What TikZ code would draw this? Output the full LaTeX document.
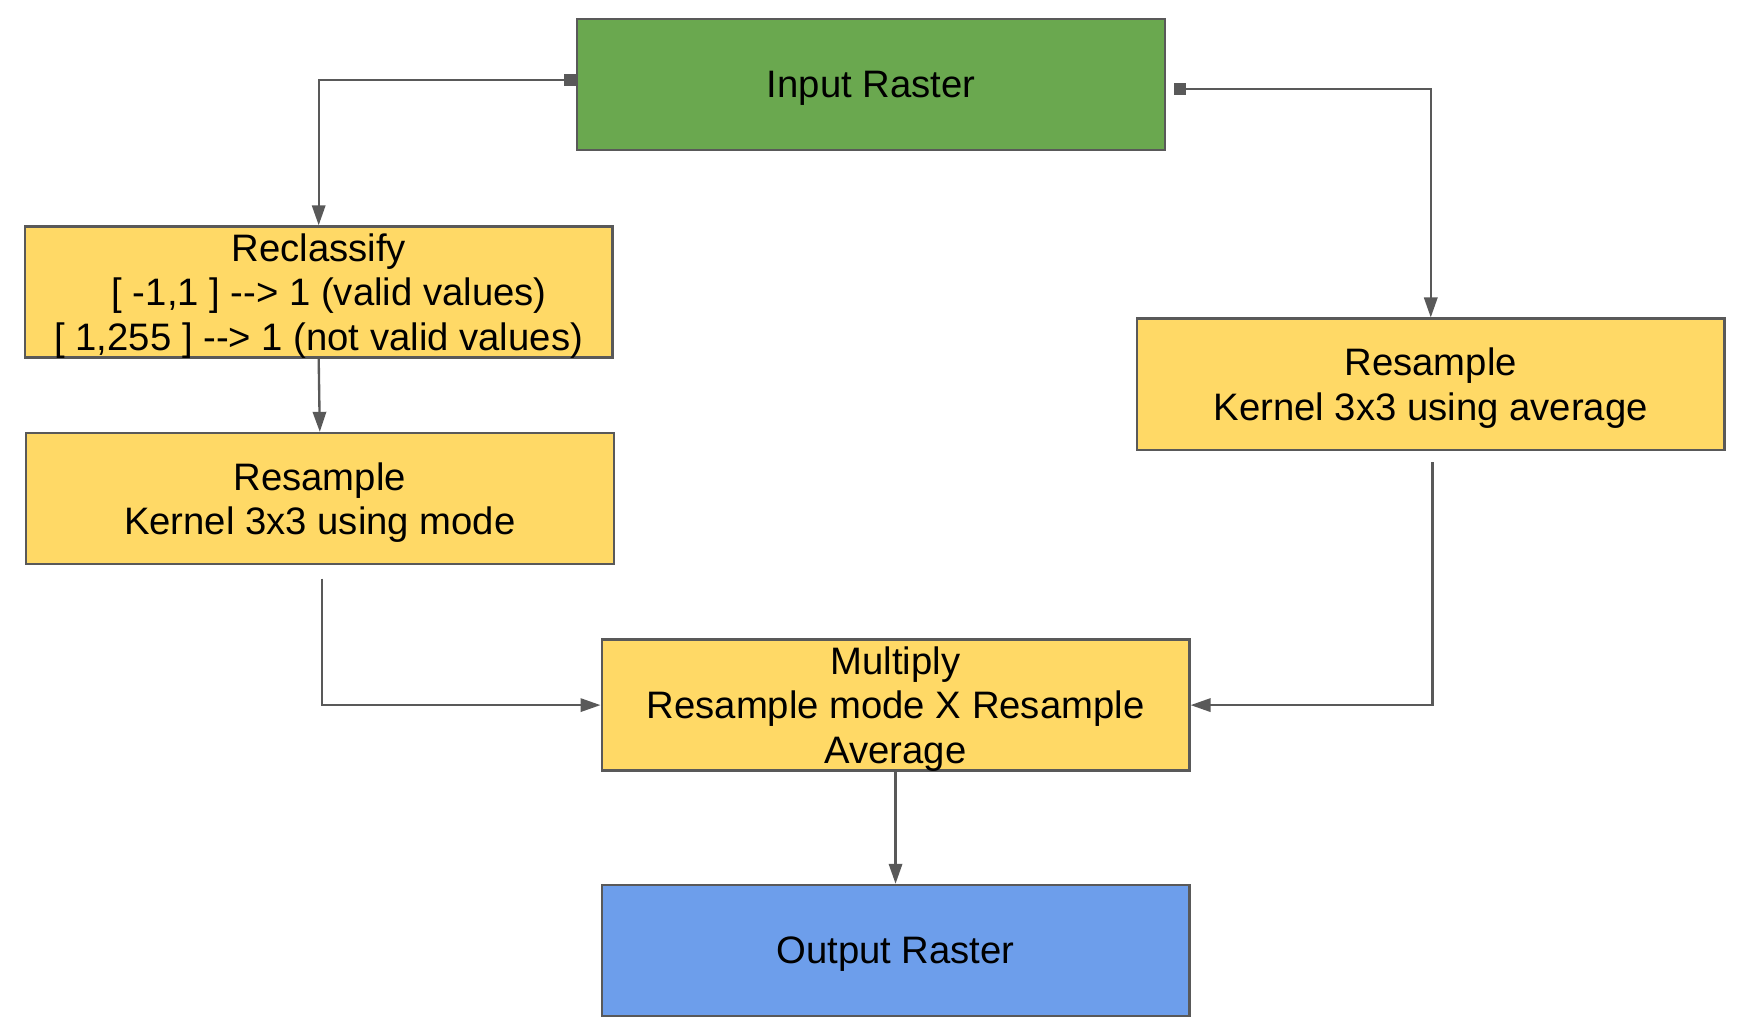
\documentclass[tikz,border=0pt]{standalone}
\usepackage{fontspec}
\setmainfont{Liberation Sans}
\usetikzlibrary{arrows.meta}
\definecolor{rastergreen}{HTML}{6AA84F}
\definecolor{stepyellow}{HTML}{FFD966}
\definecolor{rasterblue}{HTML}{6D9EEB}
\definecolor{edgegray}{HTML}{595959}
\begin{document}
\begin{tikzpicture}[x=0.01cm, y=-0.01cm,
  box/.style={draw=edgegray, line width=0.6pt, minimum width=5.29cm, minimum height=1.18cm,
    inner sep=0pt, text depth=0pt, align=center, font=\fontsize{9.8}{11.4}\selectfont},
  conn/.style={draw=edgegray, line width=0.6pt, -{Triangle[length=0.18cm, width=0.12cm]}},
  tailsq/.style={{Square[length=0.11cm, width=0.11cm]}-{Triangle[length=0.18cm, width=0.12cm]}}]
\useasboundingbox (0,0) rectangle (1567,931);
\node[box, fill=rastergreen] (in) at (784.5,76) {Input Raster};
\node[box, fill=stepyellow] (recl) at (287,263) {Reclassify\\
\hspace*{0.55em}[ -1,1 ] -{}-> 1 (valid values)\\\relax
[ 1,255 ] -{}-> 1 (not valid values)};
\node[box, fill=stepyellow] (mode) at (288,449) {Resample\\Kernel 3x3 using mode};
\node[box, fill=stepyellow] (avg) at (1288.5,346) {Resample\\Kernel 3x3 using average};
\node[box, fill=stepyellow] (mul) at (806.5,635) {Multiply\\Resample mode X Resample\\Average};
\node[box, fill=rasterblue] (out) at (806.5,856) {Output Raster};
\draw[conn, tailsq] ([yshift=0.04cm]in.west) -| (recl.north);
\draw[conn, tailsq] ([xshift=0.07cm, yshift=-0.04cm]in.east) -| (avg.north);
\draw[conn] (recl.south) -- (mode.north);
\draw[conn] ([xshift=0.02cm, yshift=-0.12cm]mode.south) |- (mul.west);
\draw[conn] ([xshift=0.015cm, yshift=-0.1cm]avg.south) |- (mul.east);
\draw[conn] (mul.south) -- (out.north);
\end{tikzpicture}
\end{document}
